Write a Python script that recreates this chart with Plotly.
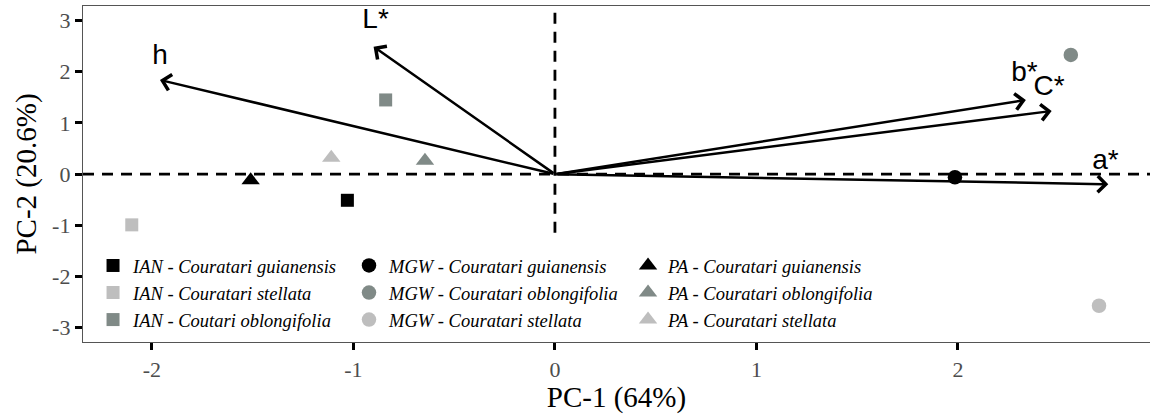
import plotly.graph_objects as go

# ---- data ----
groups = ["IAN - Couratari guianensis", "IAN - Couratari stellata", "IAN - Coutari oblongifolia",
          "MGW - Couratari guianensis", "MGW - Couratari oblongifolia", "MGW - Couratari stellata",
          "PA - Couratari guianensis", "PA - Couratari oblongifolia", "PA - Couratari stellata"]
pc1 = [-1.03, -2.10, -0.84, 1.985, 2.56, 2.70, -1.51, -0.645, -1.11]
pc2 = [-0.51, -0.99, 1.45, -0.06, 2.33, -2.57, -0.12, 0.26, 0.32]
site = ["IAN", "IAN", "IAN", "MGW", "MGW", "MGW", "PA", "PA", "PA"]
species = ["guianensis", "stellata", "oblongifolia", "guianensis", "oblongifolia", "stellata",
           "guianensis", "oblongifolia", "stellata"]

vec_names = ["h", "L*", "b*", "C*", "a*"]
vec_x = [-1.96, -0.90, 2.337, 2.465, 2.746]
vec_y = [1.84, 2.49, 1.449, 1.234, -0.197]
lab_x = [-1.96, -0.89, 2.33, 2.452, 2.732]
lab_y = [2.29, 2.99, 1.96, 1.69, 0.24]

x_ticks = [-2, -1, 0, 1, 2]
x_ticktext = ["-2", "-1", "0", "1", "2"]
y_ticks = [-3, -2, -1, 0, 1, 2, 3]
y_ticktext = ["-3", "-2", "-1", "0", "1", "2", "3"]

# ---- styles ----
color_map = {"guianensis": "#000000", "oblongifolia": "#808A87", "stellata": "#BEBEBE"}
symbol_map = {"IAN": "square", "MGW": "circle", "PA": "triangle-up"}
size_map = {"IAN": 13, "MGW": 14.5, "PA": 16}
legend_map = {"IAN": "legend", "MGW": "legend2", "PA": "legend3"}

fig = go.Figure()

for g, x, y, s, sp in zip(groups, pc1, pc2, site, species):
    fig.add_trace(go.Scatter(
        x=[x], y=[y], mode="markers", name=g,
        marker=dict(symbol=symbol_map[s], size=size_map[s], color=color_map[sp],
                    line=dict(width=0)),
        legend=legend_map[s], showlegend=True, cliponaxis=False,
    ))

# vector labels
fig.add_trace(go.Scatter(
    x=lab_x, y=lab_y, mode="text", text=vec_names, showlegend=False,
    textposition="middle center",
    textfont=dict(family="Liberation Sans, Arial, sans-serif", size=28, color="black"),
    hoverinfo="skip", cliponaxis=False,
))

# arrows from origin
for vx, vy in zip(vec_x, vec_y):
    fig.add_annotation(
        x=vx, y=vy, ax=0, ay=0, xref="x", yref="y", axref="x", ayref="y",
        text="", showarrow=True, arrowhead=4, arrowsize=1.25, arrowwidth=2.5,
        arrowcolor="black", standoff=0, startstandoff=0,
    )

# dashed reference lines
fig.add_shape(type="line", xref="paper", yref="y", x0=0, x1=1, y0=0, y1=0,
              line=dict(color="black", width=2.8, dash="11px,8px"), layer="below")
fig.add_shape(type="line", xref="x", yref="paper", x0=0, x1=0, y0=0.325, y1=1,
              line=dict(color="black", width=2.8, dash="11px,8px"), layer="below")

serif = "Liberation Serif"
legend_common = dict(
    bgcolor="rgba(255,255,255,0)", borderwidth=0, yanchor="middle", xanchor="left", y=0.146,
    font=dict(family=serif, size=18.5, color="black", style="italic"),
    orientation="v", traceorder="normal",
)

fig.update_layout(
    width=1150, height=414,
    margin=dict(l=83, r=0, t=6, b=72),
    paper_bgcolor="white", plot_bgcolor="white",
    showlegend=True,
    legend=dict(x=0.0094, **legend_common),
    legend2=dict(x=0.2493, **legend_common),
    legend3=dict(x=0.5108, **legend_common),
    xaxis=dict(
        range=[-2.342, 2.953], tickvals=x_ticks, ticktext=x_ticktext,
        showgrid=False, zeroline=False, showline=True, mirror=True,
        linecolor="#555555", linewidth=1.3,
        ticks="outside", ticklen=7, tickwidth=2.5, tickcolor="black",
        tickfont=dict(family=serif, size=22, color="#4D4D4D"),
        title=dict(text="PC-1 (64%)", font=dict(family=serif, size=29, color="black"), standoff=4),
    ),
    yaxis=dict(
        range=[-3.278, 3.285], tickvals=y_ticks, ticktext=y_ticktext,
        showgrid=False, zeroline=False, showline=True, mirror=True,
        linecolor="#555555", linewidth=1.3,
        ticks="outside", ticklen=7, tickwidth=2.5, tickcolor="black",
        tickfont=dict(family=serif, size=22, color="#4D4D4D"),
        title=dict(text="PC-2 (20.6%)", font=dict(family=serif, size=29, color="black"), standoff=6),
    ),
)

fig.write_html("out.html")
